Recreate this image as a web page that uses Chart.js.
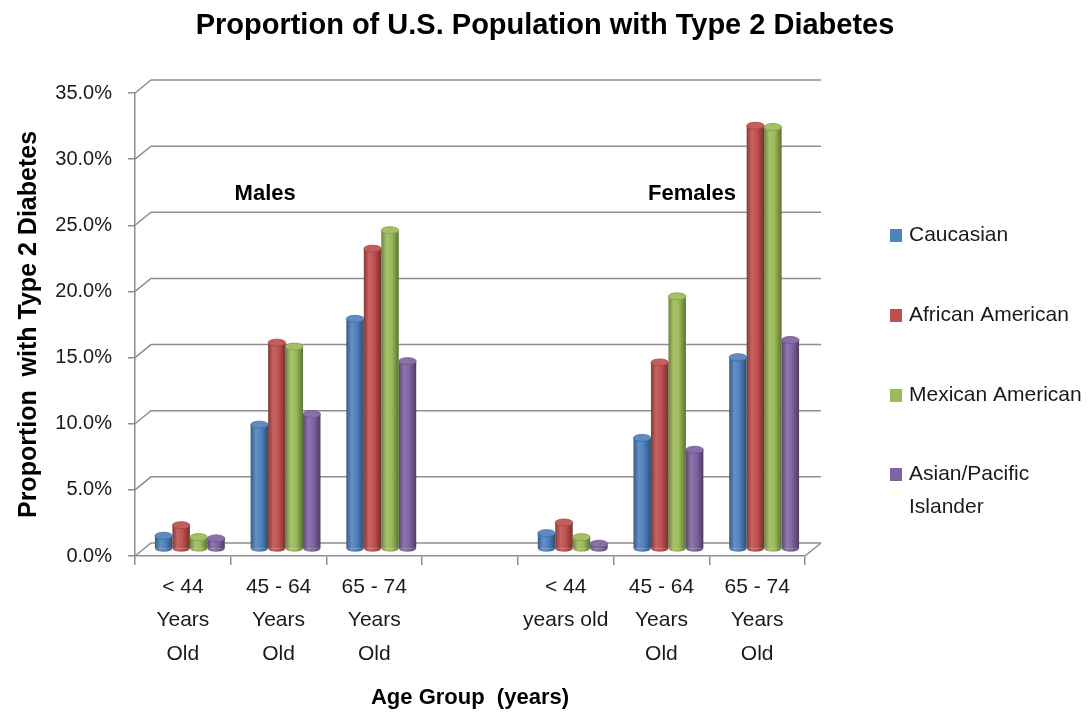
<!DOCTYPE html>
<html>
<head>
<meta charset="utf-8">
<script src="https://cdn.jsdelivr.net/npm/chart.js@4.4.1/dist/chart.umd.min.js"></script>
<style>
  html, body { margin: 0; padding: 0; background: #fff; }
  #wrap { width: 1092px; height: 717px; }
</style>
</head>
<body>
<div id="wrap"><canvas id="canvas"></canvas></div>
<script>
// chart data
const categories = [
  ['< 44', 'Years', 'Old'], ['45 - 64', 'Years', 'Old'], ['65 - 74', 'Years', 'Old'],
  '',
  ['< 44', 'years old'], ['45 - 64', 'Years', 'Old'], ['65 - 74', 'Years', 'Old']
];
const caucasian       = [1.0,  9.4, 17.4, null, 1.2,  8.4, 14.5];
const africanAmerican = [1.8, 15.6, 22.7, null, 2.0, 14.1, 32.0];
const mexicanAmerican = [0.9, 15.3, 24.1, null, 0.9, 19.1, 31.9];
const asianPacific    = [0.8, 10.2, 14.2, null, 0.4,  7.5, 15.8];
const seriesNames = ['Caucasian', 'African American', 'Mexican American', 'Asian/Pacific Islander'];
const seriesColors = ['#4F81BD', '#C0504D', '#9BBB59', '#8064A2'];
const groupNames = ['Males', 'Females'];
const chartTitle = 'Proportion of U.S. Population with Type 2 Diabetes';

const FONT = '"Liberation Sans", Arial, sans-serif';
const GRID = '#8e8e8e';
const DEPTH_X = 16, DEPTH_Y = 13;   // back wall offset

Chart.defaults.font.family = FONT;
Chart.defaults.color = '#1a1a1a';

function shade(hex, f) {
  const n = parseInt(hex.slice(1), 16);
  let r = n >> 16, g = (n >> 8) & 255, b = n & 255;
  const t = f < 0 ? 0 : 255, p = Math.abs(f);
  r = Math.round((t - r) * p + r);
  g = Math.round((t - g) * p + g);
  b = Math.round((t - b) * p + b);
  return `rgb(${r},${g},${b})`;
}

// title centred on the whole canvas (the built-in one centres on the padded area)
const topTitle = {
  id: 'topTitle',
  afterDraw(chart) {
    const ctx = chart.ctx;
    ctx.save();
    ctx.font = 'bold 29px ' + FONT;
    ctx.fillStyle = '#000';
    ctx.textAlign = 'center';
    ctx.textBaseline = 'middle';
    ctx.fillText(chartTitle, 545, 26);
    ctx.restore();
  }
};

// back wall + floor lines
const walls = {
  id: 'walls',
  beforeDatasetsDraw(chart) {
    const { ctx, chartArea: { left, right, bottom } } = chart;
    const y = chart.scales.y;
    ctx.save();
    ctx.strokeStyle = GRID;
    ctx.lineWidth = 1.5;
    y.ticks.forEach(t => {
      const py = y.getPixelForValue(t.value);
      ctx.beginPath();
      ctx.moveTo(left, py);
      ctx.lineTo(left + DEPTH_X, py - DEPTH_Y);
      ctx.lineTo(right + DEPTH_X, py - DEPTH_Y);
      ctx.stroke();
    });
    ctx.beginPath();
    ctx.moveTo(right, bottom);
    ctx.lineTo(right + DEPTH_X, bottom - DEPTH_Y);
    ctx.stroke();
    ctx.restore();
  }
};

// shade bars as cylinders, set half way into the depth
const cylinders = {
  id: 'cylinders',
  beforeDatasetsDraw(chart) {
    const ctx = chart.ctx;
    ctx.save();
    ctx.translate(DEPTH_X / 2 - 1, -DEPTH_Y / 2 - 0.5);
    chart.data.datasets.forEach((ds, i) => {
      const c = seriesColors[i];
      chart.getDatasetMeta(i).data.forEach((bar, j) => {
        if (ds.data[j] == null) return;
        const l = bar.x - bar.width / 2;
        const g = ctx.createLinearGradient(l, 0, l + bar.width, 0);
        g.addColorStop(0, shade(c, -0.3));
        g.addColorStop(0.3, shade(c, 0.12));
        g.addColorStop(0.6, c);
        g.addColorStop(1, shade(c, -0.4));
        bar.options = Object.assign({}, bar.options, { backgroundColor: g });
      });
    });
  },
  afterDatasetsDraw(chart) {
    const ctx = chart.ctx;
    chart.data.datasets.forEach((ds, i) => {
      const c = seriesColors[i];
      chart.getDatasetMeta(i).data.forEach((bar, j) => {
        if (ds.data[j] == null) return;
        const rx = bar.width / 2, ry = 3.5;
        ctx.fillStyle = bar.options.backgroundColor;
        ctx.beginPath();
        ctx.ellipse(bar.x, bar.base, rx, ry, 0, 0, Math.PI);
        ctx.fill();
        ctx.fillStyle = shade(c, 0.08);
        ctx.strokeStyle = shade(c, -0.15);
        ctx.lineWidth = 0.8;
        ctx.beginPath();
        ctx.ellipse(bar.x, bar.y, rx, ry, 0, 0, Math.PI * 2);
        ctx.fill();
        ctx.stroke();
      });
    });
    ctx.restore();

    // group names
    const x = chart.scales.x, y = chart.scales.y;
    ctx.save();
    ctx.font = 'bold 22px ' + FONT;
    ctx.fillStyle = '#000';
    ctx.textAlign = 'center';
    ctx.textBaseline = 'middle';
    ctx.fillText(groupNames[0], x.getPixelForValue(0.86), y.getPixelForValue(27.4));
    ctx.fillText(groupNames[1], x.getPixelForValue(5.32), y.getPixelForValue(27.4));
    ctx.restore();
  }
};

// legend at the right
const sideLegend = {
  id: 'sideLegend',
  afterDraw(chart) {
    const ctx = chart.ctx;
    const rows = [235, 315, 395, 474];
    const tx = 909, maxW = 1090 - tx;
    ctx.save();
    ctx.font = '21px ' + FONT;
    ctx.textBaseline = 'middle';
    chart.data.datasets.forEach((ds, i) => {
      ctx.fillStyle = seriesColors[i];
      ctx.fillRect(890, rows[i] - 6, 12, 13);
      ctx.fillStyle = '#1a1a1a';
      const words = ds.label.split(' ');
      const lines = [];
      let cur = '';
      words.forEach(w => {
        const test = cur ? cur + ' ' + w : w;
        if (cur && ctx.measureText(test).width > maxW) { lines.push(cur); cur = w; }
        else cur = test;
      });
      lines.push(cur);
      lines.forEach((ln, k) => ctx.fillText(ln, tx, rows[i] + k * 33));
    });
    ctx.restore();
  }
};

const seriesData = [caucasian, africanAmerican, mexicanAmerican, asianPacific];

new Chart(document.getElementById('canvas'), {
  type: 'bar',
  data: {
    labels: categories,
    datasets: seriesData.map((d, i) => ({
      label: seriesNames[i],
      data: d,
      backgroundColor: seriesColors[i],
      borderWidth: 0,
      barPercentage: 1,
      categoryPercentage: 0.73
    }))
  },
  options: {
    responsive: true,
    maintainAspectRatio: false,
    animation: false,
    layout: { padding: { left: 0, right: 287, top: 93, bottom: 0 } },
    plugins: {
      legend: { display: false },
      tooltip: { enabled: false },
      title: { display: false }
    },
    scales: {
      x: {
        offset: true,
        grid: { drawOnChartArea: false, color: GRID, lineWidth: 1.5, tickLength: 9 },
        border: { display: true, color: GRID, width: 1.5 },
        ticks: { font: { size: 21, lineHeight: 1.6 }, padding: 5, maxRotation: 0, autoSkip: false },
        title: {
          display: true,
          text: 'Age Group  (years)',
          color: '#000',
          font: { size: 22, weight: 'bold' },
          padding: { top: 0, bottom: 6 }
        },
        afterFit(scale) { scale.height = 161; }
      },
      y: {
        min: 0,
        max: 35,
        ticks: { stepSize: 5, font: { size: 20 }, padding: 16, callback: v => v.toFixed(1) + '%' },
        grid: { drawOnChartArea: false, color: GRID, lineWidth: 1.5, tickLength: 7 },
        border: { display: true, color: GRID, width: 1.5 },
        title: {
          display: true,
          text: 'Proportion  with Type 2 Diabetes',
          color: '#000',
          font: { size: 25, weight: 'bold' },
          padding: { top: 14, bottom: 0 }
        },
        afterFit(scale) { scale.width = 135; }
      }
    }
  },
  plugins: [walls, cylinders, sideLegend, topTitle]
});
</script>
</body>
</html>
